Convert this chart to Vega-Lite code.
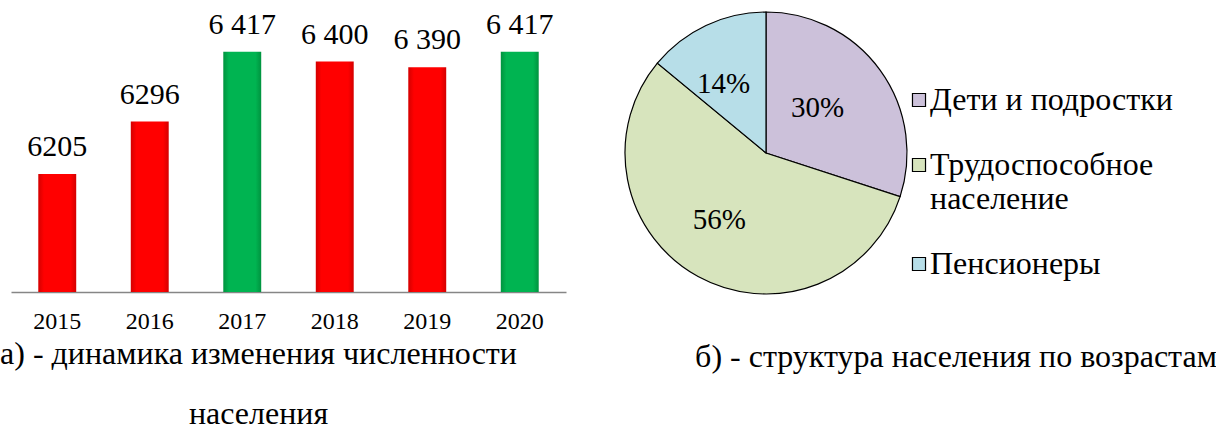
{
  "$schema": "https://vega.github.io/schema/vega-lite/v6.json",
  "padding": {"left": 0, "top": 4, "right": 0, "bottom": 0},
  "background": "white",
  "config": {
    "font": "Liberation Serif",
    "view": {"stroke": null},
    "text": {"font": "Liberation Serif"},
    "title": {"font": "Liberation Serif", "fontWeight": "normal", "color": "black"},
    "axis": {"labelFont": "Liberation Serif", "labelColor": "black"},
    "legend": {"labelFont": "Liberation Serif", "labelColor": "black"}
  },
  "spacing": 56,
  "hconcat": [
    {
      "width": 555,
      "height": 288,
      "title": {
        "text": ["а) - динамика изменения численности", "\u00a0\u00a0\u00a0\u00a0\u00a0\u00a0населения"],
        "orient": "bottom",
        "anchor": "middle",
        "font": "Liberation Serif",
        "fontSize": 32,
        "fontWeight": "normal",
        "color": "black",
        "lineHeight": 60,
        "offset": 6,
        "dx": -30
      },
      "data": {
        "values": [
          {"year": "2015", "value": 6205, "label": "6205", "group": "other"},
          {"year": "2016", "value": 6296, "label": "6296", "group": "other"},
          {"year": "2017", "value": 6417, "label": "6 417", "group": "max"},
          {"year": "2018", "value": 6400, "label": "6 400", "group": "other"},
          {"year": "2019", "value": 6390, "label": "6 390", "group": "other"},
          {"year": "2020", "value": 6417, "label": "6 417", "group": "max"}
        ]
      },
      "encoding": {
        "x": {
          "field": "year",
          "type": "nominal",
          "sort": null,
          "scale": {"paddingInner": 0.59, "paddingOuter": 0.295},
          "axis": {
            "title": null,
            "labelAngle": 0,
            "labelFont": "Liberation Serif",
            "labelFontSize": 24,
            "labelPadding": 17,
            "ticks": false,
            "domainColor": "#868686",
            "domainWidth": 1.5
          }
        },
        "y": {
          "field": "value",
          "type": "quantitative",
          "scale": {"domain": [6000, 6500], "zero": false},
          "axis": null
        }
      },
      "layer": [
        {
          "mark": {"type": "bar", "clip": true},
          "encoding": {
            "color": {
              "condition": {
                "test": "datum.group == 'max'",
                "value": {
                  "gradient": "linear", "x1": 0, "x2": 1, "y1": 0, "y2": 0,
                  "stops": [
                    {"offset": 0, "color": "#00933f"},
                    {"offset": 0.15, "color": "#00b451"},
                    {"offset": 0.85, "color": "#00b451"},
                    {"offset": 1, "color": "#00933f"}
                  ]
                }
              },
              "value": {
                "gradient": "linear", "x1": 0, "x2": 1, "y1": 0, "y2": 0,
                "stops": [
                  {"offset": 0, "color": "#d40000"},
                  {"offset": 0.15, "color": "#ff0000"},
                  {"offset": 0.85, "color": "#ff0000"},
                  {"offset": 1, "color": "#d40000"}
                ]
              }
            }
          }
        },
        {
          "mark": {"type": "text", "font": "Liberation Serif", "fontSize": 30, "baseline": "bottom", "dy": -12, "color": "black"},
          "encoding": {"text": {"field": "label"}}
        }
      ]
    },
    {
      "width": 282,
      "height": 298,
      "title": {
        "text": "б) - структура населения по возрастам",
        "orient": "bottom",
        "anchor": "middle",
        "font": "Liberation Serif",
        "fontSize": 32,
        "fontWeight": "normal",
        "color": "black",
        "offset": 40,
        "dx": 190
      },
      "data": {
        "values": [
          {"group": "Дети и подростки", "share": 0.30, "order": 1},
          {"group": "Трудоспособное население", "share": 0.56, "order": 2},
          {"group": "Пенсионеры", "share": 0.14, "order": 3}
        ]
      },
      "encoding": {
        "theta": {"field": "share", "type": "quantitative", "stack": true},
        "order": {"field": "order", "type": "quantitative"},
        "color": {
          "field": "group",
          "type": "nominal",
          "sort": ["Дети и подростки", "Трудоспособное население", "Пенсионеры"],
          "scale": {
            "domain": ["Дети и подростки", "Трудоспособное население", "Пенсионеры"],
            "range": ["#ccc1da", "#d7e4bd", "#b7dee8"]
          },
          "legend": {
            "title": null,
            "orient": "none",
            "legendX": 892,
            "legendY": 80,
            "padding": 0,
            "symbolType": "square",
            "symbolSize": 170,
            "symbolStrokeColor": "black",
            "symbolStrokeWidth": 1.2,
            "labelFont": "Liberation Serif",
            "labelFontSize": 32,
            "labelLimit": 400,
            "labelLineHeight": 31,
            "labelBaseline": "middle",
            "rowPadding": 33,
            "labelOffset": -5,
            "labelExpr": "datum.label == 'Трудоспособное население' ? ['Трудоспособное', 'население'] : datum.label"
          }
        }
      },
      "layer": [
        {
          "mark": {"type": "arc", "outerRadius": 141, "stroke": "black", "strokeWidth": 1.2}
        },
        {
          "mark": {"type": "text", "radius": 76, "dx": -10, "font": "Liberation Serif", "fontSize": 29, "color": "black"},
          "encoding": {"text": {"field": "share", "type": "quantitative", "format": ".0%"}, "color": {"value": "black"}}
        }
      ]
    }
  ]
}
